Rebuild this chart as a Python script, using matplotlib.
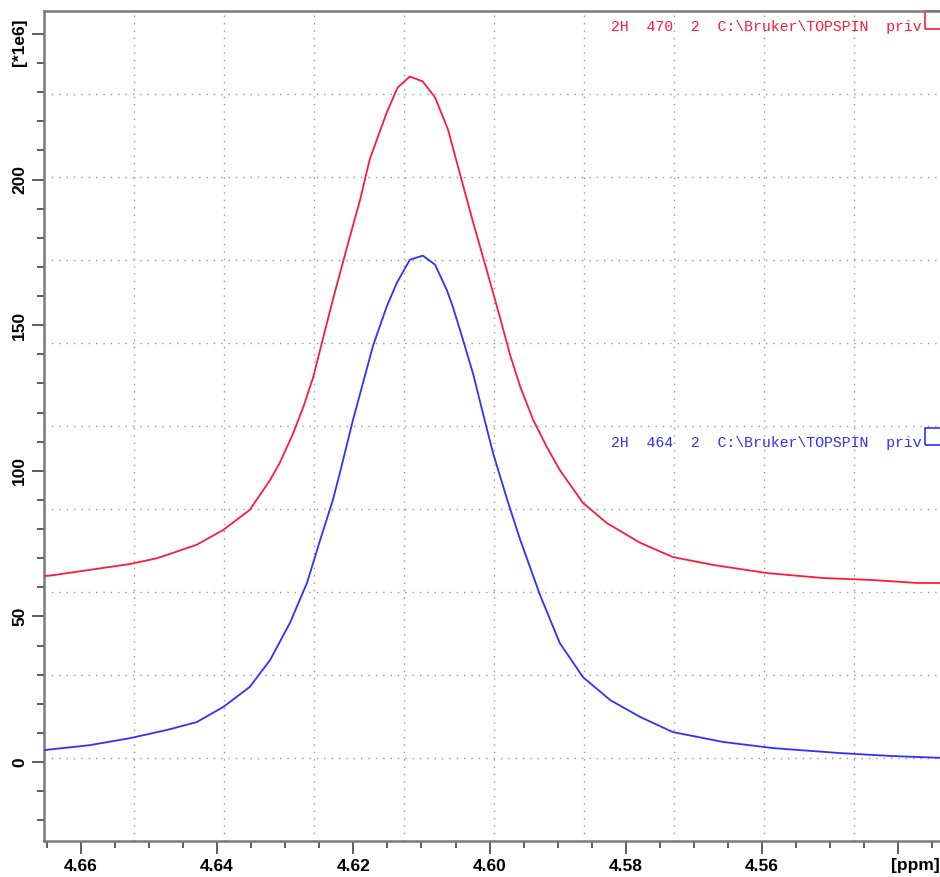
import matplotlib
matplotlib.use("Agg")
import matplotlib.pyplot as plt
from matplotlib.patches import Rectangle
from matplotlib.font_manager import FontProperties
from matplotlib.ticker import MultipleLocator, FixedLocator, FixedFormatter
import matplotlib.transforms as mtransforms

# ---- data (ppm, intensity in 1e6) ----
red_ppm = [4.6654, 4.6646, 4.6528, 4.6488, 4.6430, 4.6391, 4.6352, 4.6322, 4.6308, 4.6289,
           4.6274, 4.6259, 4.6245, 4.6230, 4.6209, 4.6190, 4.6176, 4.6151, 4.6135, 4.6117,
           4.6098, 4.6080, 4.6061, 4.6044, 4.6024, 4.6004, 4.5985, 4.5970, 4.5955, 4.5936,
           4.5916, 4.5897, 4.5863, 4.5828, 4.5779, 4.5731, 4.5672, 4.5593, 4.5510, 4.5437,
           4.5372, 4.5333]
red_val = [63.9, 64.0, 68.0, 70.0, 74.6, 79.7, 86.6, 96.9, 102.7, 112.5,
           121.5, 132.0, 145.0, 158.8, 177.0, 193.1, 206.9, 223.0, 231.6, 235.4,
           233.7, 228.2, 217.2, 202.4, 185.2, 168.8, 152.9, 139.9, 128.9, 117.5,
           108.2, 100.3, 89.0, 82.1, 75.3, 70.4, 67.7, 64.9, 63.2, 62.5,
           61.5, 61.5]

blue_ppm = [4.6654, 4.6587, 4.6528, 4.6474, 4.6430, 4.6391, 4.6352, 4.6322, 4.6293, 4.6268,
            4.6249, 4.6230, 4.6220, 4.6201, 4.6186, 4.6171, 4.6151, 4.6136, 4.6117, 4.6098,
            4.6080, 4.6063, 4.6054, 4.6039, 4.6024, 4.6010, 4.5995, 4.5974, 4.5955, 4.5926,
            4.5897, 4.5863, 4.5823, 4.5779, 4.5731, 4.5657, 4.5584, 4.5486, 4.5412, 4.5333]
blue_val = [4.1, 5.8, 8.2, 11.0, 13.7, 18.9, 25.8, 35.1, 47.8, 61.5,
            76.0, 90.0, 99.0, 117.0, 130.0, 143.0, 156.4, 164.6, 172.5, 173.9,
            170.8, 162.2, 156.4, 145.0, 133.2, 120.0, 106.2, 90.0, 76.3, 57.4,
            40.9, 29.2, 21.3, 15.5, 10.3, 6.9, 4.8, 3.1, 2.1, 1.4]

x_major = [4.66, 4.64, 4.62, 4.60, 4.58, 4.56, 4.54]
x_labels = ["4.66", "4.64", "4.62", "4.60", "4.58", "4.56", ""]
y_major = [0, 50, 100, 150, 200, 250]
y_labels = ["0", "50", "100", "150", "200", ""]
x_unit = "[ppm]"
y_unit = "[*1e6]"

red_label = "2H  470  2  C:\\Bruker\\TOPSPIN  priv"
blue_label = "2H  464  2  C:\\Bruker\\TOPSPIN  priv"

# ---- figure ----
W, H = 940, 877
fig = plt.figure(figsize=(W / 100, H / 100), dpi=100)
ax = fig.add_axes([44 / W, (H - 841) / H, 900 / W, 830 / H])

red_c = "#ff1a3c"
blue_c = "#3030ff"
ax.plot(red_ppm, red_val, color=red_c, lw=1.3, zorder=3)
ax.plot(blue_ppm, blue_val, color=blue_c, lw=1.3, zorder=3)

ax.set_xlim(4.6654, 4.5333)
ax.set_ylim(-27.1, 257.9)

# grid: 10 equal divisions of the plot area
for i in range(1, 10):
    f = i / 10
    ax.plot([f, f], [0, 1], transform=ax.transAxes, color="#959595",
            lw=1.0, ls=(0, (1, 4.3)), zorder=1)
    ax.plot([0, 1], [f, f], transform=ax.transAxes, color="#959595",
            lw=1.0, ls=(0, (1, 4.3)), zorder=1)

ax.xaxis.set_major_locator(FixedLocator(x_major))
ax.xaxis.set_major_formatter(FixedFormatter(x_labels))
ax.xaxis.set_minor_locator(MultipleLocator(0.005))
ax.yaxis.set_major_locator(FixedLocator(y_major))
ax.yaxis.set_major_formatter(FixedFormatter(y_labels))
ax.yaxis.set_minor_locator(MultipleLocator(10))

fp = FontProperties(family="Liberation Sans", weight="bold", size=12.5)
for lab in ax.get_xticklabels():
    lab.set_fontproperties(fp)
for lab in ax.get_yticklabels():
    lab.set_fontproperties(fp)
    lab.set_rotation(90)
    lab.set_va("center")

ax.tick_params(axis="both", which="major", length=9, width=1.3, color="#505050", pad=4)
ax.tick_params(axis="both", which="minor", length=5, width=1.3, color="#505050")
ax.tick_params(axis="y", which="major", pad=3)

# unit labels placed like the TopSpin axis
ax.text(4.5375, -0.0295, x_unit, transform=mtransforms.blended_transform_factory(ax.transData, ax.transAxes),
        ha="center", va="center", fontproperties=fp)
ax.text(-0.0267, 247.3, y_unit, transform=mtransforms.blended_transform_factory(ax.transAxes, ax.transData),
        ha="center", va="center", rotation=90, fontproperties=fp)

for s in ["left", "bottom", "top"]:
    ax.spines[s].set_color("#7a7a7a")
    ax.spines[s].set_linewidth(1.8)
ax.spines["right"].set_visible(False)

mono = dict(family="Liberation Mono", size=10.75)
ax.text(0.9756, 0.9807, red_label, transform=ax.transAxes, color=red_c,
        ha="right", va="center", **mono)
ax.text(0.9756, 0.4795, blue_label, transform=ax.transAxes, color=blue_c,
        ha="right", va="center", **mono)
ax.add_patch(Rectangle((0.9789, 0.978), 0.05, 0.022, transform=ax.transAxes,
                       fill=False, edgecolor=red_c, lw=1.2, clip_on=False))
ax.add_patch(Rectangle((0.9789, 0.4771), 0.05, 0.0205, transform=ax.transAxes,
                       fill=False, edgecolor=blue_c, lw=1.2, clip_on=False))

fig.savefig("out.png", dpi=100)
